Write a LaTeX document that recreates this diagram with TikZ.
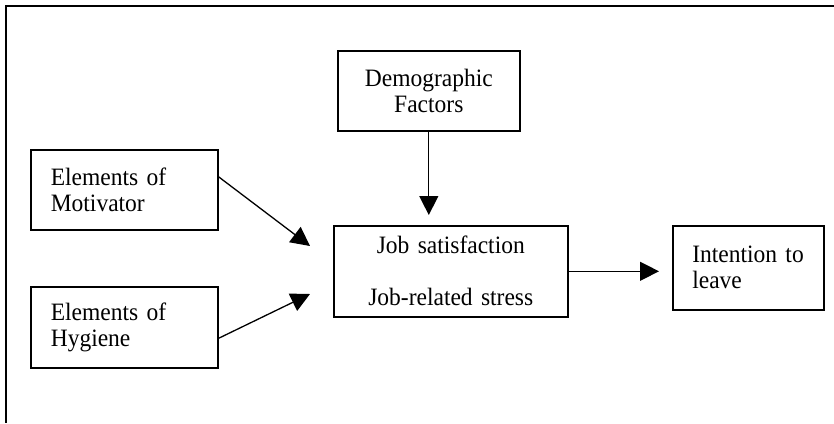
\documentclass[tikz,border=0pt]{standalone}
\usepackage{fontspec}
\setmainfont{Liberation Serif}[FakeStretch=0.94]
\usetikzlibrary{arrows.meta, positioning}

\begin{document}
\begin{tikzpicture}[
    x=1pt, y=-1pt,
    >={Triangle[length=19pt, width=19pt]},
    font=\fontsize{25}{26}\selectfont,
    box/.style={draw, line width=1.6pt, anchor=north west, inner ysep=0pt},
    link/.style={->, line width=1.3pt}
]
    \useasboundingbox (0,0) rectangle (834,423);

    % Frame (only top and left edges are shown)
    \draw[line width=1.8pt] (834,6) -- (6,6) -- (6,423);

    % Boxes
    \node[box, text width=147pt, inner xsep=20pt, minimum height=80pt, align=left]
        (motiv) at (30,149) {Elements of\\Motivator};
    \node[box, text width=147pt, inner xsep=20pt, minimum height=81pt, align=left]
        (hygiene) at (30,286) {Elements of\\Hygiene};
    \node[box, text width=150pt, inner xsep=16pt, minimum height=80pt, align=center]
        (demo) at (337,50) {Demographic\\Factors};
    \node[box, text width=200pt, inner xsep=17pt, minimum height=91pt, align=center]
        (job) at (333,225) {Job satisfaction\\[26pt]Job-related stress};
    \node[box, text width=112pt, inner xsep=19.5pt, minimum height=84pt, align=left]
        (leave) at (672,225) {Intention to\\leave};

    % Free arrow ends
    \coordinate (motivend) at (310,246);
    \coordinate (hygieneend) at (310,294);
    \coordinate (demoend) at (demo.south |- 0,215);
    \coordinate (jobend) at (job.east -| 659,0);

    % Arrows
    \draw[link] ([yshift=13pt]motiv.east) -- (motivend);
    \draw[link] ([yshift=-11pt]hygiene.east) -- (hygieneend);
    \draw[link] (demo.south) -- (demoend);
    \draw[link] (job.east) -- (jobend);

\end{tikzpicture}
\end{document}
